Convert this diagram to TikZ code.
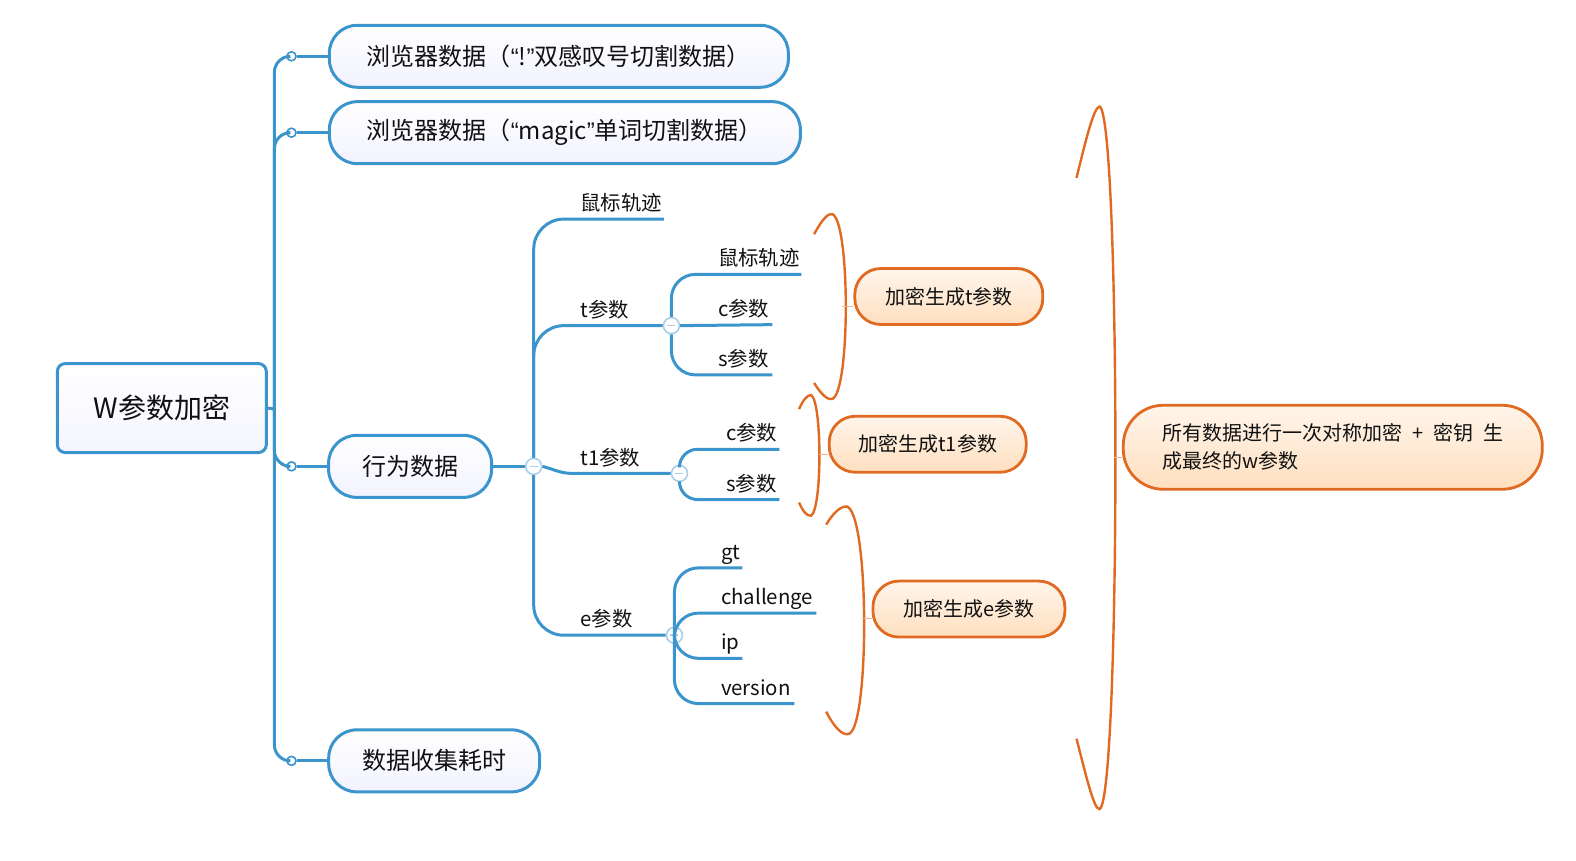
\documentclass[tikz,border=0pt]{standalone}
\usepackage{fontspec}
\setmainfont{Noto Sans CJK SC}
\newfontfamily\quotefont{Liberation Sans}
\newcommand{\qopen}{{\quotefont “}}
\newcommand{\qclose}{{\quotefont ”}}
\definecolor{xblue}{HTML}{3C94CC}
\definecolor{xminus}{HTML}{A7CFEA}
\definecolor{xorange}{HTML}{E06A22}
\definecolor{xtick}{HTML}{F2B48F}
\definecolor{xtext}{HTML}{111111}
\begin{document}
\begin{tikzpicture}[x=0.50255pt,y=-0.50255pt,
  bline/.style={draw=xblue,line width=1.5pt},
  oline/.style={draw=xorange,line width=1.2pt},
  root/.style={draw=xblue,line width=1.5pt,rounded corners=4pt,top color=white,bottom color=blue!4,
    minimum width=104.5pt,minimum height=44.5pt,text=xtext,font=\fontsize{14}{16}\selectfont},
  topic/.style={draw=xblue,line width=1.5pt,rounded corners=14pt,top color=white,bottom color=blue!5,
    minimum height=31pt,text=xtext,font=\fontsize{12}{14}\selectfont},
  onode/.style={draw=xorange,line width=1.4pt,rounded corners=13pt,top color=orange!8,bottom color=orange!25,
    minimum height=28pt,text=xtext,font=\fontsize{10}{14}\selectfont},
  leaf/.style={anchor=south west,inner sep=0pt,text depth=4pt,align=left,text=xtext,
    font=\fontsize{10.2}{12}\selectfont},
  dot/.style={circle,draw=xblue,fill=white,line width=0.8pt,minimum size=4.5pt,inner sep=0pt},
  minus/.style={circle,draw=xminus,fill=white,line width=0.8pt,minimum size=8pt,inner sep=0pt,
    path picture={\draw[xminus,line width=0.8pt] (path picture bounding box.center) ++(-2pt,0pt) -- ++(4pt,0pt);}},
  tick/.style={draw=xtick,line width=0.6pt}]
\useasboundingbox (0,0) rectangle (1568,856);

% root and first level
\node[root] (root) at (161,406) {W参数加密};
\coordinate (sp) at (273,407);
\node[dot] (k1) at (290,56) {};
\node[dot] (k2) at (290,132) {};
\node[dot] (k3) at (290,464) {};
\node[dot] (k4) at (290,757) {};
\node[topic,minimum width=229.5pt] (n1) at (556,56) {浏览器数据（\qopen!\qclose 双感叹号切割数据）};
\node[topic,minimum width=235.5pt] (n2) at (562,132) {浏览器数据（\qopen magic\qclose 单词切割数据）};
\node[topic,minimum width=81.5pt] (act) at (408,464) {行为数据};
\node[topic,minimum width=105.5pt] (n4) at (432,757) {数据收集耗时};

\draw[bline] (root.east) -- (sp);
\draw[bline,rounded corners=8pt] (k1.west) -| (sp) |- (k4.west);
\draw[bline,rounded corners=8pt] (sp) |- (k2.west);
\draw[bline,rounded corners=8pt] (sp) |- (k3.west);
\draw[bline] (k1.east) -- (n1.west);
\draw[bline] (k2.east) -- (n2.west);
\draw[bline] (k3.east) -- (act.west);
\draw[bline] (k4.east) -- (n4.west);

% behaviour data
\node[minus] (b) at (531,464) {};
\node[minus] (tc) at (668,324) {};
\node[minus] (t1c) at (676,471) {};
\node[minus] (ec) at (671,632) {};
\node[leaf,text width=41.5pt] (m1) at (577,218) {鼠标轨迹};
\node[leaf] (tl) at (577,324) {t参数};
\node[leaf] (t1l) at (577,471) {t1参数};
\node[leaf] (el) at (577,632) {e参数};

\draw[bline] (act.east) -- (b.west);
\draw[bline,rounded corners=15pt] (b.north) |- (m1.south east);
\draw[bline,rounded corners=15pt] (b.north) |- (tc.west);
\draw[bline] (b.east) to[out=-15,in=180] +(30,7) -- (t1c.west);
\draw[bline,rounded corners=15pt] (b.south) |- (ec.west);

% t
\node[leaf,text width=41.5pt] (tm) at (714,273) {鼠标轨迹};
\node[leaf,text width=27pt] (tcp) at (714,323) {c参数};
\node[leaf,text width=27pt] (tsp) at (714,373) {s参数};
\draw[bline,rounded corners=12pt] (tc.north) |- (tm.south east);
\draw[bline] (tc.east) -- (tcp.south east);
\draw[bline,rounded corners=12pt] (tc.south) |- (tsp.south east);

% t1
\node[leaf,text width=26.5pt] (t1cp) at (722,447) {c参数};
\node[leaf,text width=26.5pt] (t1sp) at (722,497) {s参数};
\draw[bline,rounded corners=9pt] (t1c.north) |- (t1cp.south east);
\draw[bline,rounded corners=9pt] (t1c.south) |- (t1sp.south east);

% e
\node[leaf,text width=10.5pt] (gt) at (717,565) {gt};
\node[leaf,text width=47.5pt] (ch) at (717,610) {challenge};
\node[leaf,text width=10.5pt] (ip) at (717,655) {ip};
\node[leaf,text width=36.5pt] (ver) at (717,700) {version};
\draw[bline,rounded corners=12pt] (ec.north) |- (gt.south east);
\draw[bline,rounded corners=12pt] (ec.north) |- (ch.south east);
\draw[bline,rounded corners=12pt] (ec.south) |- (ip.south east);
\draw[bline,rounded corners=12pt] (ec.south) |- (ver.south east);

% encryption
\node[onode,minimum width=94pt] (o1) at (944,295) {加密生成t参数};
\node[onode,minimum width=98.5pt] (o2) at (923,442) {加密生成t1参数};
\node[onode,minimum width=96pt] (o3) at (964,606) {加密生成e参数};
\node[onode,minimum width=209.5pt,minimum height=42pt,rounded corners=20pt,align=left] (o4) at (1326,445)
  {所有数据进行一次对称加密\enspace{}+\enspace{}密钥\enspace{}生\\成最终的w参数};

\draw[oline] (810,233) .. controls (818,218) and (824,212) .. (828,213)
  .. controls (846,220) and (846,390) .. (828,397)
  .. controls (824,398) and (818,394) .. (810,381);
\draw[oline] (795,407) .. controls (799,398) and (803,393) .. (807,393)
  .. controls (818,400) and (818,506) .. (807,513)
  .. controls (803,514) and (799,509) .. (795,500);
\draw[oline] (822,522) .. controls (829,510) and (837,503) .. (843,504)
  .. controls (865,515) and (865,720) .. (845,730)
  .. controls (838,733) and (829,722) .. (822,708);
\draw[oline] (1071,177) .. controls (1079,145) and (1088,106) .. (1094,106)
  .. controls (1115,115) and (1115,795) .. (1094,805)
  .. controls (1088,806) and (1079,765) .. (1071,735);

\coordinate (p1) at (838,305);
\coordinate (p2) at (815,452);
\coordinate (p3) at (858,615);
\coordinate (p4) at (1108,455);
\draw[tick] (p1) -- (p1 -| o1.west);
\draw[tick] (p2) -- (p2 -| o2.west);
\draw[tick] (p3) -- (p3 -| o3.west);
\draw[tick] (p4) -- (p4 -| o4.west);
\end{tikzpicture}
\end{document}
